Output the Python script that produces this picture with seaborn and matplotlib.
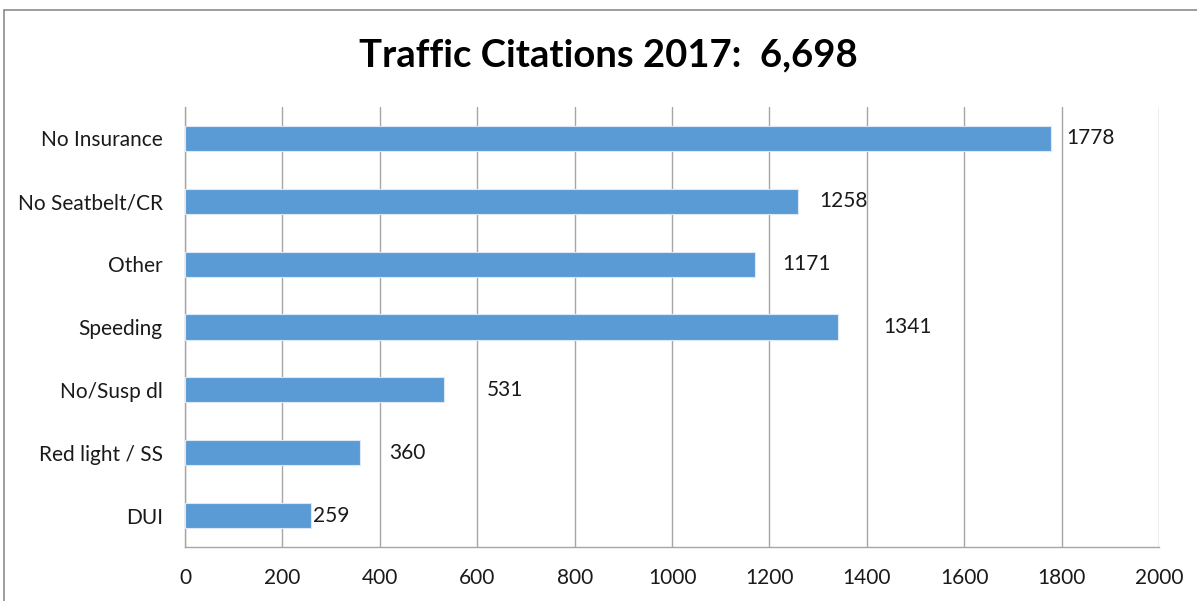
import matplotlib
matplotlib.use("Agg")
import matplotlib.pyplot as plt
from matplotlib.lines import Line2D
import seaborn as sns
import pandas as pd

categories = ["No Insurance", "No Seatbelt/CR", "Other", "Speeding",
              "No/Susp dl", "Red light / SS", "DUI"]
citations = [1778, 1258, 1171, 1341, 531, 360, 259]
x_ticks = [0, 200, 400, 600, 800, 1000, 1200, 1400, 1600, 1800, 2000]
title_text = "Traffic Citations 2017:  6,698"

# horizontal nudge of each value label, in pixels from the bar end
label_nudge = [15, 22, 27, 45, 43, 29, 2]

sns.set_theme(style="white")
plt.rcParams["font.family"] = ["Lato", "DejaVu Sans"]

df = pd.DataFrame({"category": categories, "citations": citations})

fig = plt.figure(figsize=(11.97, 6.01), dpi=100)
ax = fig.add_axes([0.1546, 0.0899, 0.8137, 0.7321])

sns.barplot(data=df, y="category", x="citations", order=categories,
            orient="h", width=0.4, color="#5B9BD5", saturation=1,
            edgecolor="#DCE8F5", linewidth=0.8, ax=ax, zorder=3)

ax.set_xlim(0, 2000)
ax.set_ylim(len(categories) - 0.5, -0.5)
ax.set_xticks(x_ticks)
ax.set_xticklabels([str(t) for t in x_ticks])
ax.set_xlabel("")
ax.set_ylabel("")

ax.grid(axis="x", color="#A6A6A6", linewidth=1.0, zorder=0)
ax.grid(axis="y", visible=False)
ax.set_axisbelow(True)

for side in ["top", "right"]:
    ax.spines[side].set_visible(False)
for side in ["left", "bottom"]:
    ax.spines[side].set_color("#A6A6A6")
    ax.spines[side].set_linewidth(1.0)

ax.tick_params(axis="x", length=0, pad=15, labelsize=15, labelcolor="#1a1a1a")
ax.tick_params(axis="y", length=0, pad=16, labelsize=15, labelcolor="#1a1a1a")

for i, (val, dx) in enumerate(zip(citations, label_nudge)):
    ax.annotate(f"{val}", xy=(val, i), xytext=(dx, 0),
                textcoords="offset pixels", va="center", ha="left",
                fontsize=15, color="#1a1a1a")

fig.text(0.508, 0.908, title_text, ha="center", va="center",
         fontsize=27.5, fontweight="bold", color="#000000")

# chart frame edges along top and left
fig.add_artist(Line2D([4 / 1197, 1.0], [1 - 10 / 601, 1 - 10 / 601],
                      transform=fig.transFigure, color="#8C8C8C", linewidth=1.2))
fig.add_artist(Line2D([4 / 1197, 4 / 1197], [0.0, 1 - 10 / 601],
                      transform=fig.transFigure, color="#8C8C8C", linewidth=1.2))

fig.savefig("out.png", dpi=100)
